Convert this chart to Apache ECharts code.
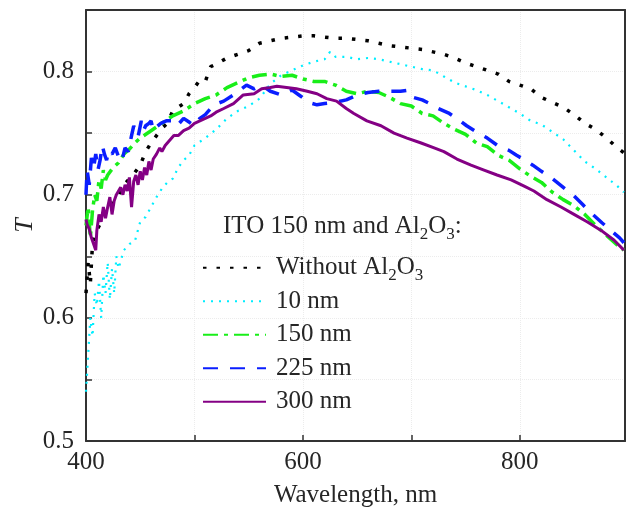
<!DOCTYPE html>
<html>
<head>
<meta charset="utf-8">
<script src="https://cdn.jsdelivr.net/npm/echarts@6/dist/echarts.min.js"></script>
<style>html,body{margin:0;padding:0;background:#fff}#c{width:629px;height:513px}</style>
</head>
<body>
<div id="c"></div>
<script>
var seriesNames = ['Without Al2O3', '10 nm', '150 nm', '225 nm', '300 nm'];
var legendTitle = 'ITO 150 nm and Al{sub|2}O{sub|3}:';
var xTickLabels = [400, 600, 800];
var yTickLabels = [0.5, 0.6, 0.7, 0.8];

var blackWl = [400,402,404,406,408,410,415,420,425,430,435,440,445,450,455,460,465,470,475,480,485,490,495,500,505,510,515,520,530,540,550,560,570,580,590,600,610,620,630,640,650,660,670,680,690,700,710,720,730,740,750,760,770,780,790,800,810,820,830,840,850,860,870,880,890,896];
var blackT  = [0.620,0.645,0.628,0.660,0.665,0.671,0.680,0.688,0.694,0.700,0.708,0.713,0.718,0.724,0.735,0.742,0.748,0.754,0.758,0.768,0.771,0.774,0.782,0.787,0.793,0.792,0.804,0.806,0.811,0.814,0.817,0.823,0.825,0.827,0.828,0.829,0.829,0.828,0.827,0.827,0.826,0.825,0.823,0.821,0.820,0.819,0.818,0.816,0.814,0.811,0.807,0.804,0.801,0.798,0.792,0.789,0.786,0.779,0.775,0.771,0.765,0.758,0.753,0.746,0.738,0.734];

var cyanWl = [400,402,404,406,408,410,412,414,416,418,420,422,424,426,428,430,435,440,445,450,455,460,465,470,475,480,485,490,495,500,510,520,530,540,550,560,570,580,590,600,610,620,625,630,640,650,660,670,680,690,700,710,720,730,740,750,760,770,780,790,800,810,820,830,840,850,860,870,880,890,896];
var cyanT  = [0.540,0.570,0.600,0.585,0.620,0.610,0.630,0.600,0.635,0.620,0.645,0.615,0.640,0.620,0.650,0.640,0.655,0.660,0.662,0.678,0.682,0.690,0.698,0.705,0.710,0.713,0.722,0.728,0.732,0.740,0.746,0.753,0.762,0.768,0.772,0.778,0.790,0.797,0.801,0.805,0.808,0.810,0.816,0.812,0.812,0.810,0.811,0.810,0.808,0.806,0.804,0.802,0.801,0.796,0.791,0.788,0.785,0.781,0.776,0.771,0.766,0.760,0.757,0.751,0.745,0.736,0.727,0.721,0.714,0.707,0.702];

var greenWl = [400,402,404,406,408,410,412,414,416,418,420,425,430,435,440,445,450,460,470,480,490,500,510,520,530,540,550,560,570,580,590,600,610,620,630,640,650,660,670,680,690,700,710,720,730,740,750,760,770,780,790,800,810,820,830,840,850,860,870,880,890,896];
var greenT  = [0.675,0.690,0.665,0.687,0.700,0.695,0.712,0.705,0.720,0.712,0.716,0.722,0.726,0.733,0.737,0.742,0.746,0.752,0.758,0.764,0.768,0.774,0.778,0.781,0.787,0.791,0.795,0.797,0.798,0.796,0.797,0.794,0.792,0.792,0.789,0.784,0.782,0.784,0.783,0.779,0.774,0.772,0.766,0.764,0.758,0.753,0.749,0.742,0.739,0.732,0.728,0.721,0.715,0.710,0.702,0.696,0.691,0.684,0.675,0.667,0.659,0.655];

var blueWl = [400,401,403,405,407,409,411,413,415,417,419,421,424,427,430,433,436,439,442,444,446,448,451,453,455,458,460,462,465,469,474,480,484,490,495,500,505,510,518,527,536,548,555,562,570,580,590,598,605,613,620,630,640,650,660,670,680,690,698,702,710,717,725,735,745,751,760,770,781,790,797,805,812,820,830,843,850,858,866,876,884,892,896];
var blueT  = [0.700,0.720,0.708,0.730,0.722,0.733,0.720,0.728,0.740,0.733,0.728,0.736,0.733,0.738,0.731,0.727,0.738,0.735,0.748,0.756,0.751,0.747,0.760,0.752,0.756,0.758,0.760,0.752,0.755,0.758,0.760,0.760,0.756,0.762,0.759,0.756,0.762,0.765,0.773,0.776,0.781,0.789,0.786,0.789,0.784,0.781,0.785,0.780,0.775,0.773,0.774,0.775,0.777,0.781,0.783,0.784,0.784,0.784,0.785,0.779,0.777,0.774,0.770,0.766,0.760,0.756,0.751,0.746,0.739,0.736,0.732,0.728,0.724,0.719,0.713,0.704,0.699,0.692,0.685,0.677,0.671,0.665,0.661];

var purpleWl = [400,401,403,405,407,409,410,412,414,416,418,420,422,424,426,428,430,432,434,436,438,440,442,444,446,448,450,452,454,456,458,460,462,465,468,470,473,476,479,481,485,490,495,500,505,510,515,520,527,536,545,555,562,570,576,585,594,604,613,622,631,640,647,659,672,684,696,709,721,730,742,755,767,779,792,804,813,825,838,850,862,875,887,896];
var purpleT  = [0.680,0.676,0.672,0.665,0.660,0.655,0.671,0.684,0.678,0.690,0.681,0.690,0.698,0.684,0.695,0.700,0.703,0.706,0.700,0.708,0.703,0.714,0.690,0.711,0.716,0.708,0.719,0.712,0.722,0.716,0.727,0.720,0.729,0.733,0.738,0.735,0.740,0.743,0.746,0.748,0.748,0.752,0.754,0.758,0.760,0.762,0.764,0.767,0.770,0.774,0.781,0.782,0.786,0.787,0.788,0.787,0.786,0.784,0.782,0.778,0.776,0.770,0.766,0.760,0.756,0.750,0.746,0.742,0.738,0.735,0.729,0.724,0.720,0.716,0.712,0.707,0.703,0.696,0.690,0.684,0.678,0.671,0.663,0.655];

function pairs(xs, ys) { return xs.map(function (x, i) { return [x, ys[i]]; }); }

var FONT = 'Liberation Serif';
var TXT = '#262626';
var chart = echarts.init(document.getElementById('c'), null, {renderer: 'canvas'});

function mkSeries(name, xs, ys, color, width, dash, cap) {
  return {
    name: name, type: 'line', data: pairs(xs, ys), symbol: 'none', showSymbol: false,
    smooth: false, animation: false, clip: true, xAxisIndex: 0, yAxisIndex: 0,
    lineStyle: {color: color, width: width, type: dash, cap: cap || 'butt'},
    itemStyle: {color: color}
  };
}

var frameAxis = {
  type: 'value', axisLine: {show: true, lineStyle: {color: '#333', width: 2}},
  axisTick: {show: false}, axisLabel: {show: false}, splitLine: {show: false}
};

chart.setOption({
  animation: false,
  grid: {left: 86, right: 4, top: 10, bottom: 68, show: false},
  xAxis: [{
    type: 'value', min: 400, max: 897, interval: 100,
    name: 'Wavelength, nm', nameLocation: 'middle', nameGap: 42,
    nameTextStyle: {fontFamily: FONT, fontSize: 25, color: TXT},
    axisLine: {show: true, lineStyle: {color: '#333', width: 2}},
    axisTick: {show: true, inside: true, length: 6, lineStyle: {color: '#333', width: 1.5}},
    axisLabel: {
      fontFamily: FONT, fontSize: 25, color: TXT, margin: 9,
      formatter: function (v) { return xTickLabels.indexOf(Math.round(v)) >= 0 ? String(Math.round(v)) : ''; }
    },
    splitLine: {show: true, lineStyle: {color: '#ececec', type: 'dotted', width: 1}}
  }, Object.assign({}, frameAxis, {position: 'top', min: 400, max: 897})],
  yAxis: [{
    type: 'value', min: 0.5, max: 0.85, interval: 0.05,
    name: 'T', nameLocation: 'middle', nameGap: 48, nameRotate: 90, nameMoveOverlap: false,
    nameTextStyle: {fontFamily: FONT, fontSize: 26, fontStyle: 'italic', color: TXT},
    axisLine: {show: true, lineStyle: {color: '#333', width: 2}},
    axisTick: {show: true, inside: true, length: 6, lineStyle: {color: '#333', width: 1.5}},
    axisLabel: {
      fontFamily: FONT, fontSize: 25, color: TXT, margin: 12,
      formatter: function (v) {
        for (var i = 0; i < yTickLabels.length; i++) if (Math.abs(v - yTickLabels[i]) < 1e-6) return yTickLabels[i].toFixed(1);
        return '';
      }
    },
    splitLine: {show: true, lineStyle: {color: '#ececec', type: 'dotted', width: 1}}
  }, Object.assign({}, frameAxis, {position: 'right', min: 0.5, max: 0.85})],
  legend: {
    orient: 'vertical', left: 202, top: 251, itemWidth: 63, itemHeight: 14, itemGap: 0,
    padding: 0, selectedMode: false,
    data: seriesNames,
    itemStyle: {color: 'rgba(0,0,0,0)', borderColor: 'rgba(0,0,0,0)', borderWidth: 0, opacity: 0},
    formatter: function (n) { return n === 'Without Al2O3' ? 'Without Al{sub|2}O{sub|3}' : n; },
    textStyle: {
      fontFamily: FONT, fontSize: 25, color: TXT, lineHeight: 33.5, padding: [0, 0, 0, 5],
      rich: {sub: {fontFamily: FONT, fontSize: 17, color: TXT, lineHeight: 18, verticalAlign: 'bottom'}}
    }
  },
  graphic: [{
    type: 'text', left: 223, top: 210, z: 10,
    style: {
      text: legendTitle, fontFamily: FONT, fontSize: 25, fill: TXT, lineHeight: 33.5,
      rich: {sub: {fontFamily: FONT, fontSize: 17, fill: TXT, lineHeight: 18, verticalAlign: 'bottom'}}
    }
  }],
  series: [
    mkSeries(seriesNames[0], blackWl, blackT, '#000000', 3.5, [3.5, 10]),
    mkSeries(seriesNames[1], cyanWl, cyanT, '#00eeff', 2.2, [2, 6]),
    mkSeries(seriesNames[2], greenWl, greenT, '#19ee19', 3.5, [15, 6, 4, 6]),
    mkSeries(seriesNames[3], blueWl, blueT, '#0a1eff', 3.5, [15, 12]),
    mkSeries(seriesNames[4], purpleWl, purpleT, '#840084', 3, 'solid')
  ]
});
</script>
</body>
</html>
